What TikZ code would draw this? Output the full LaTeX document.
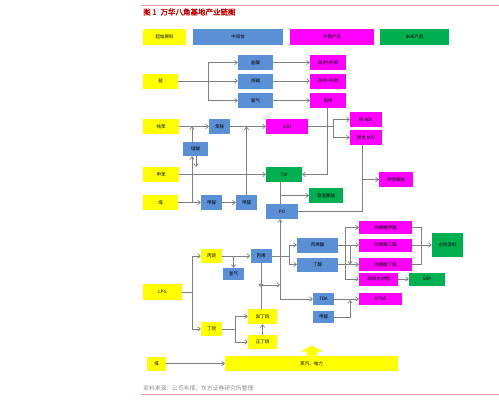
\documentclass[tikz,border=0pt]{standalone}
\usepackage{fontspec}
\setmainfont{Noto Sans CJK SC}
\newfontfamily\titlefont{Noto Sans CJK SC}[FakeBold=2]
\usetikzlibrary{arrows.meta}
\definecolor{cy}{HTML}{FFFF00}
\definecolor{cb}{HTML}{5B8FD6}
\definecolor{cm}{HTML}{FF00FF}
\definecolor{cg}{HTML}{00B050}
\definecolor{cl}{HTML}{7F7F7F}
\definecolor{ctitle}{HTML}{C00000}
\definecolor{crule}{HTML}{E8A0A0}
\tikzset{
  bx/.style={inner sep=0pt, font=\fontsize{4.5}{5}\selectfont, text=black},
  yb/.style={bx, fill=cy},
  bb/.style={bx, fill=cb},
  mb/.style={bx, fill=cm},
  gb/.style={bx, fill=cg},
  ln/.style={draw=cl, line width=0.7pt},
  arr/.style={ln, -{Straight Barb[length=2.6pt,width=4.4pt]}},
}
\begin{document}
\begin{tikzpicture}[x=1pt,y=-1pt]
\useasboundingbox (0,0) rectangle (499,400);
% rules and title
\draw[crule, line width=0.6pt] (141,5) -- (499,5);
\node[anchor=west, inner sep=0pt, text=ctitle, font=\titlefont\fontsize{7.5}{8}\selectfont] (title) at (143,12) {图 1\hspace{4pt}万华八角基地产业链图};
% legend
\node[yb, minimum width=43, minimum height=16] (L1) at (164.5,37) {起始原料};
\node[bb, minimum width=90, minimum height=16] (L2) at (238,37) {中间体};
\node[mb, minimum width=84, minimum height=16] (L3) at (332,37) {外销产品};
\node[gb, minimum width=69, minimum height=16] (L4) at (414.5,37) {未来产品};
% salt
\node[yb, minimum width=35, minimum height=15] (yan) at (160.5,81) {盐};
\node[bb, minimum width=35, minimum height=15] (yansuan) at (255.5,62.5) {盐酸};
\node[bb, minimum width=35, minimum height=15] (shaojian) at (255.5,81) {烧碱};
\node[bb, minimum width=35, minimum height=15] (lvqi) at (255.5,100.5) {氯气};
\node[mb, minimum width=36, minimum height=15] (zy1) at (328,62.5) {自用+外销};
\node[mb, minimum width=36, minimum height=15] (zy2) at (328,81) {自用+外销};
\node[mb, minimum width=36, minimum height=15] (zy3) at (328,100.5) {自用};
% MDI / TDI
\node[yb, minimum width=36, minimum height=15] (chunben) at (161,126.5) {纯苯};
\node[bb, minimum width=21, minimum height=15] (benan) at (219.5,126.5) {苯胺};
\node[mb, minimum width=42, minimum height=15] (MDI) at (287,126.5) {MDI};
\node[mb, minimum width=32, minimum height=15] (cmdi) at (366,119.5) {纯 MDI};
\node[mb, minimum width=32, minimum height=15] (jmdi) at (366,137.5) {聚合 MDI};
\node[bb, minimum width=25, minimum height=14] (xiaosuan) at (195.5,149) {硝酸};
\node[yb, minimum width=36, minimum height=15] (jiaben) at (161,174.5) {甲苯};
\node[gb, minimum width=36, minimum height=15] (TDI) at (284,174.5) {TDI};
\node[yb, minimum width=35, minimum height=15] (mei) at (160.5,202.5) {煤};
\node[bb, minimum width=21, minimum height=15] (jiachun) at (211.5,202.5) {甲醇};
\node[bb, minimum width=21, minimum height=15] (jiaquan) at (246.5,202.5) {甲醛};
\node[bb, minimum width=32, minimum height=15] (PO) at (282,211.5) {PO};
\node[gb, minimum width=34, minimum height=15] (rpjm) at (326,195.5) {软泡聚醚};
\node[mb, minimum width=34, minimum height=15] (ypjm) at (396,179.5) {硬泡聚醚};
% LPG
\node[yb, minimum width=39, minimum height=16] (LPG) at (162.5,292) {LPG};
\node[yb, minimum width=21, minimum height=14] (bingwan) at (211.5,256) {丙烷};
\node[bb, minimum width=21, minimum height=14] (bingxi) at (261,256) {丙烯};
\node[bb, minimum width=21, minimum height=12] (qingqi) at (233.5,274) {氢气};
\node[yb, minimum width=21, minimum height=14] (dingwan) at (211.5,329) {丁烷};
\node[yb, minimum width=29, minimum height=15] (yidw) at (262.5,316.5) {异丁烷};
\node[yb, minimum width=29, minimum height=14] (zhengdw) at (262.5,342) {正丁烷};
\node[bb, minimum width=41, minimum height=15] (bxs) at (317.5,245) {丙烯酸};
\node[bb, minimum width=41, minimum height=14] (dingchun) at (317.5,264.5) {丁醇};
\node[mb, minimum width=53, minimum height=13] (e1) at (385.5,227.5) {丙烯酸甲酯};
\node[mb, minimum width=53, minimum height=13] (e2) at (385.5,245) {丙烯酸乙酯};
\node[mb, minimum width=53, minimum height=13] (e3) at (385.5,264.5) {丙烯酸丁酯};
\node[mb, minimum width=39, minimum height=13] (gxss) at (378.5,279) {高吸水树脂};
\node[gb, minimum width=36, minimum height=13] (SAP) at (427,279) {SAP};
\node[gb, minimum width=31, minimum height=24] (sxtl) at (447.5,245) {水性涂料};
\node[bb, minimum width=21, minimum height=12] (TBA) at (323.5,299) {TBA};
\node[bb, minimum width=21, minimum height=12] (jiachun2) at (323.5,317) {甲醇};
\node[mb, minimum width=43, minimum height=12] (MTBE) at (380.5,299) {MTBE};
% bottom
\node[yb, minimum width=19, minimum height=14] (mei2) at (156.5,363.5) {煤};
\node[yb, minimum width=173, minimum height=15] (zqdl) at (311.5,363.5) {蒸汽、电力};
\fill[cy] (312,345.5) -- (323,351.5) -- (317,351.5) -- (317,356) -- (307,356) -- (307,351.5) -- (301,351.5) -- cycle;
\node[anchor=west, inner sep=0pt, text=black!45, font=\fontsize{5.8}{6}\selectfont] (src) at (143,388) {资料来源：公司年报，东方证券研究所整理};
\draw[crule, line width=0.6pt] (141,394) -- (499,394);

% ---------- connectors ----------
% salt
\coordinate (yj) at (208,81);
\draw[ln] (yan.east) -- (yj);
\draw[arr] (yj) |- (yansuan.west);
\draw[arr] (yj) -- (shaojian.west);
\draw[arr] (yj) |- (lvqi.west);
\draw[arr] (yansuan.east) -- (zy1.west);
\draw[arr] (shaojian.east) -- (zy2.west);
\draw[arr] (lvqi.east) -- (zy3.west);
% benzene / nitric acid / toluene / coal
\draw[arr] (chunben.east) -- (benan.west);
\draw[arr] ([xshift=-3.5]xiaosuan.north) -- ([xshift=-3.5]xiaosuan.north |- chunben.east);
\draw[arr] ([xshift=0.5]xiaosuan.south) -- ([xshift=0.5]xiaosuan.south |- jiaben.north east);
\draw[arr] ([xshift=-3.5]xiaosuan.south |- mei.east) -- ([xshift=-3.5]xiaosuan.south);
\draw[arr] (jiaben.east) -- (TDI.west);
\draw[arr] (mei.east) -- (jiachun.west);
\draw[arr] (jiachun.east) -- (jiaquan.west);
\draw[arr] (jiaquan.north) -- (jiaquan.north |- benan.east);
\draw[arr] (benan.east) -- (MDI.west);
\coordinate (mj) at (333,126.5);
\draw[ln] (MDI.east) -- (mj);
\draw[arr] (mj) |- (cmdi.west);
\draw[arr] (mj) |- (jmdi.west);
\draw[arr] ([xshift=-1]zy3.south) |- (TDI.east);
% TDI / PO
\draw[ln] ([xshift=-4]TDI.south) -- ([xshift=-2]PO.north);
\draw[arr] ([xshift=-4]TDI.south |- rpjm.west) -- (rpjm.west);
\draw[ln] (PO.east) -| ([xshift=-4]jmdi.south);
\draw[arr] ([xshift=-4]jmdi.south |- ypjm.west) -- (ypjm.west);
\draw[arr] ([xshift=-2]PO.south |- TBA.west) -- ([xshift=-2]PO.south);
\draw[arr] ([xshift=-2]PO.south |- TBA.west) -- (TBA.west);
% LPG
\coordinate (lj) at (192,292);
\draw[ln] (LPG.east) -- (lj);
\draw[arr] (lj) |- (bingwan.west);
\draw[arr] (lj) |- (dingwan.west);
\draw[arr] (bingwan.east) -- (bingxi.west);
\draw[arr] (qingqi.north |- bingwan.east) -- (qingqi.north);
\coordinate (dj) at (235,329);
\draw[ln] (dingwan.east) -- (dj);
\draw[arr] (dj) |- (yidw.west);
\draw[arr] (dj) |- (zhengdw.west);
\draw[arr] (zhengdw.north) -- (yidw.south);
\coordinate (pj) at (261,285);
\draw[arr] (bingxi.south) -- ([yshift=-2]pj);
\draw[arr] ([xshift=-1.5]yidw.north) -- ([yshift=2]pj);
\draw[arr] (pj) -- ([xshift=-2]PO.south |- pj);
\coordinate (bj) at (289,256);
\draw[ln] (bingxi.east) -- (bj);
\draw[arr] (bj) |- (bxs.west);
\draw[arr] (bj) |- (dingchun.west);
% acrylic
\coordinate (aj) at (345,245);
\draw[ln] (bxs.east) -- (aj);
\draw[arr] (aj) |- (e1.west);
\draw[arr] (aj) -- (e2.west);
\draw[arr] (aj) |- (gxss.west);
\coordinate (aj2) at (350,245);
\draw[arr] (aj2) -- (aj2 |- dingchun.east);
\draw[arr] (dingchun.east) -- (e3.west);
\coordinate (wj) at (421,245);
\draw[ln] (e1.east) -| (wj);
\draw[ln] (e3.east) -| (wj);
\draw[ln] (e2.east) -- (wj);
\draw[arr] (wj) -- (sxtl.west);
\draw[arr] (gxss.east) -- (SAP.west);
\draw[arr] (TBA.east) -- (MTBE.west);
\coordinate (mtj) at (350,300);
\draw[arr] (jiachun2.east) -| (mtj);
% bottom
\draw[arr] (mei2.east) -- (zqdl.west);
\end{tikzpicture}
\end{document}
